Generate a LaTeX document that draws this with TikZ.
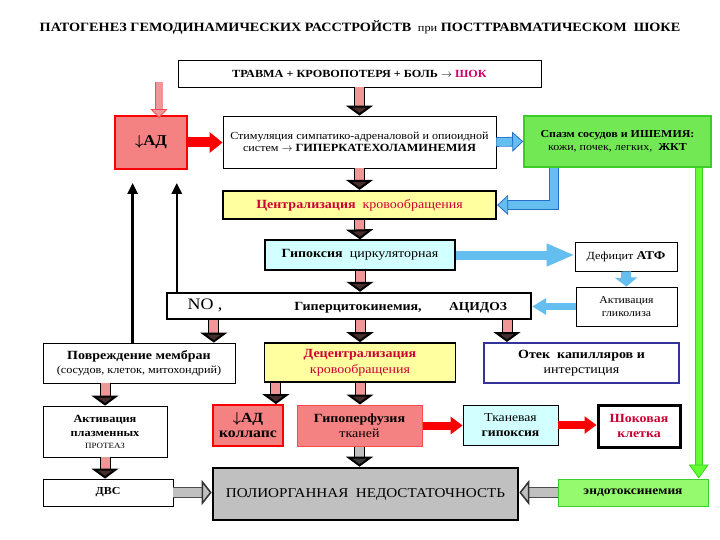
\documentclass[tikz,border=0pt]{standalone}
\usepackage{fontspec}
\setmainfont{Liberation Serif}[FakeStretch=1.12]
\usepackage{tikz}
\usepackage{xcolor}
\usetikzlibrary{positioning, arrows.meta, calc}
\definecolor{shpink}{RGB}{240,150,150}
\definecolor{shsalmon}{RGB}{245,130,130}
\definecolor{shred}{RGB}{250,0,0}
\definecolor{shtext}{RGB}{204,0,51}
\definecolor{shyellow}{RGB}{255,255,160}
\definecolor{shcyan}{RGB}{210,255,255}
\definecolor{shblue}{RGB}{100,190,240}
\definecolor{shdblue}{RGB}{40,110,200}
\definecolor{shgreen}{RGB}{115,232,85}
\definecolor{shdgreen}{RGB}{60,205,40}
\definecolor{shlgreen}{RGB}{150,250,110}
\definecolor{sharrowgreen}{RGB}{100,255,50}
\definecolor{shgray}{RGB}{192,192,192}
\definecolor{shnavy}{RGB}{51,51,153}
\definecolor{shmagenta}{RGB}{210,0,100}
\newcommand{\fs}[1]{\fontsize{#1}{#1}\selectfont}
\tikzset{
    shbox/.style={draw, line width=0.8pt, fill=white, align=center, inner sep=1pt, font=\fs{12.5}},
    redbox/.style={shbox, fill=shsalmon, draw=shred, line width=1.8pt},
    yellowbox/.style={shbox, fill=shyellow, line width=2.2pt},
    cyanbox/.style={shbox, fill=shcyan, line width=1.2pt},
    greenbox/.style={shbox, fill=shgreen, draw=shdgreen, line width=1.5pt},
    pinkarrow/.style={line width=9pt, draw=shpink,
        -{Triangle[length=10pt, width=27pt, color=black, fill=shpink!30!black, line width=2pt]},
        preaction={draw=black, line width=11pt, -, shorten >=9pt}},
    grayarrow/.style={line width=9pt, draw=shgray,
        -{Triangle[length=10pt, width=25pt, color=black!80, fill=shgray, line width=1.5pt]},
        preaction={draw=black!70, line width=10.6pt, -, shorten >=9pt}},
    redarrow/.style={line width=8pt, draw=shred, -{Triangle[length=12pt, width=17pt]}},
    bluearrow/.style={line width=8pt, draw=shblue, -{Triangle[length=11pt, width=20pt, color=shdblue, fill=shblue, line width=0.8pt]},
        preaction={draw=shdblue, line width=9.6pt, -, shorten >=10pt}},
    lightarrow/.style 2 args={draw=shblue, -{Triangle[length=#1, width=#2]}},
    thinarrow/.style={line width=2.6pt, -{Triangle[length=11pt, width=10pt]}}
}

\begin{document}
\begin{tikzpicture}[x=1pt, y=-1pt]
    \fill[white] (0,0) rectangle (720,540);
    \useasboundingbox (0,0) rectangle (720,540);
    % title
    \node[font=\fs{12.7}] (title) at (360,27)
        {\bfseries ПАТОГЕНЕЗ ГЕМОДИНАМИЧЕСКИХ РАССТРОЙСТВ {\mdseries\fs{11} при} ПОСТТРАВМАТИЧЕСКОМ\ \ ШОКЕ};
    % top row
    \node[shbox, minimum width=363pt, minimum height=27pt, font=\fs{10.9}\bfseries] (travma) at (359.5,73.5)
        {ТРАВМА + КРОВОПОТЕРЯ + БОЛЬ $\rightarrow$ \textcolor{shmagenta}{ШОК}};
    \node[redbox, minimum width=72pt, minimum height=53pt, font=\fs{15}\bfseries] (ad) at (151,142.5)
        {{\boldmath$\downarrow$}АД};
    \node[shbox, minimum width=273pt, minimum height=52pt, font=\fs{10.8}] (stim) at (359.5,142)
        {Стимуляция симпатико-адреналовой и опиоидной\\[1pt]
         систем $\rightarrow$ {\fs{11}\bfseries ГИПЕРКАТЕХОЛАМИНЕМИЯ}};
    \node[greenbox, minimum width=187pt, minimum height=51pt, font=\fs{10.7}] (spasm) at (617.5,141.5)
        {\bfseries Спазм сосудов и ИШЕМИЯ:\\[2pt] кожи, почек, легких,\ \ \textbf{ЖКТ}};
    \node[yellowbox, minimum width=273pt, minimum height=28pt, text=shtext] (central) at (359.5,205)
        {\textbf{Централизация}\ \ кровообращения};
    % hypoxia row
    \node[cyanbox, minimum width=190pt, minimum height=30pt] (hypox) at (360,255)
        {\textbf{Гипоксия}\ \ циркуляторная};
    \node[shbox, minimum width=102pt, minimum height=29pt, font=\fs{10.9}] (deficit) at (626,256.5)
        {Дефицит {\fs{12}\bfseries АТФ}};
    \node[shbox, minimum width=101pt, minimum height=39pt, font=\fs{10.5}] (glyc) at (626.5,306.5)
        {Активация\\[2pt] гликолиза};
    \node[shbox, line width=2.4pt, minimum width=364pt, minimum height=26pt] (nobox) at (349,306) {};
    \node[font=\fs{16}] (no) at (205,305) {NO ,};
    \node[font=\fs{12.5}\bfseries] (cyto) at (358,308) {Гиперцитокинемия,};
    \node[font=\fs{12.1}\bfseries] (acid) at (478,308) {АЦИДОЗ};
    % second level
    \node[shbox, minimum width=192pt, minimum height=40pt] (povr) at (139,363)
        {\textbf{Повреждение мембран}\\[2pt] {\fs{10.9}(сосудов, клеток, митохондрий)}};
    \node[yellowbox, line width=1.6pt, minimum width=191pt, minimum height=39pt, text=shtext] (decentr) at (360,362.5)
        {\textbf{Децентрализация}\\[3pt] кровообращения};
    \node[shbox, draw=shnavy, line width=2pt, minimum width=195pt, minimum height=40pt] (otek) at (581.5,363)
        {\textbf{Отек\ \ капилляров и}\\[3pt] интерстиция};
    % third level
    \node[shbox, minimum width=124pt, minimum height=51pt, font=\fs{11}\bfseries] (plasma) at (105,431.5)
        {Активация\\[3pt] плазменных\\[1pt] {\mdseries\fs{8}ПРОТЕАЗ}};
    \node[redbox, minimum width=70pt, minimum height=41pt, font=\fs{14}\bfseries] (adkol) at (248,425.5)
        {{\boldmath$\downarrow$}АД\\[1pt] коллапс};
    \node[redbox, draw=shred!70, line width=1pt, minimum width=125pt, minimum height=41pt] (hypoperf) at (359.5,425.5)
        {\textbf{Гипоперфузия}\\[3pt] тканей};
    \node[cyanbox, line width=0.8pt, minimum width=95pt, minimum height=40pt, font=\fs{12.2}] (tissue) at (510.5,425)
        {Тканевая\\[3pt] \textbf{гипоксия}};
    \node[shbox, line width=3pt, minimum width=82pt, minimum height=42pt, text=shtext, font=\fs{12.4}\bfseries] (shock) at (639,426)
        {Шоковая\\[3pt] клетка};
    % bottom row
    \node[shbox, minimum width=130pt, minimum height=27pt, font=\fs{10.7}\bfseries] (dvs) at (108,492.5) {ДВС};
    \node[shbox, fill=shgray, line width=2.6pt, minimum width=305pt, minimum height=52pt, font=\fs{13.5}] (poly) at (365.5,494)
        {ПОЛИОРГАННАЯ\ \ НЕДОСТАТОЧНОСТЬ};
    \node[shbox, fill=shlgreen, draw=shdgreen, line width=1pt, minimum width=150pt, minimum height=27pt, font=\fs{12}\bfseries] (endo) at (633,492.5)
        {эндотоксинемия};

    % helper points
    \coordinate (adtop) at (159,82);
    \coordinate (s1) at ($(nobox.south west)+(48,0)$);
    \coordinate (s3) at ($(otek.north west)+(24,0)$);
    \coordinate (s4) at ($(adkol.north east)+(-8,0)$);
    \coordinate (s5) at ($(spasm.south west)+(31,0)$);
    \coordinate (s6) at ($(spasm.south east)+(-13,0)$);
    \coordinate (s7) at ($(povr.north west)+(90,0)$);
    \coordinate (s8) at ($(nobox.north west)+(11,0)$);

    % main chain
    \draw[pinkarrow] (travma.south) -- (stim.north);
    \draw[pinkarrow] (stim.south) -- (central.north);
    \draw[pinkarrow] (central.south) -- (hypox.north);
    \draw[pinkarrow] (hypox.south) -- (hypox.south |- nobox.north);
    \draw[pinkarrow] (s1) -- (s1 |- povr.north);
    \draw[pinkarrow] (decentr.north |- nobox.south) -- (decentr.north);
    \draw[pinkarrow] (s3 |- nobox.south) -- (s3);
    \draw[pinkarrow] (plasma.north |- povr.south) -- (plasma.north);
    \draw[pinkarrow] (plasma.south) -- (plasma.south |- dvs.north);
    \draw[pinkarrow] (s4 |- decentr.south) -- (s4);
    \draw[pinkarrow] (decentr.south) -- (decentr.south |- hypoperf.north);
    \draw[line width=7pt, draw=shpink, -{Triangle[length=9pt, width=17pt, color=shred!70, fill=shpink, line width=0.8pt]},
        preaction={draw=shred!70, line width=8.4pt, -, shorten >=8pt}] (adtop) -- ([yshift=-3pt]adtop |- ad.north);
    % red
    \draw[redarrow, line width=10pt, -{Triangle[length=13pt, width=20pt]}] (ad.east) -- (ad.east -| stim.west);
    \draw[redarrow] (hypoperf.east) -- (hypoperf.east -| tissue.west);
    \draw[redarrow] (tissue.east) -- (tissue.east -| shock.west);
    % gray
    \draw[grayarrow, -{Triangle[length=10pt, width=27pt, color=black, fill=shgray!30!black, line width=2pt]}, preaction={draw=black, line width=11pt, -, shorten >=9pt}]
        (hypoperf.south) -- (hypoperf.south |- poly.north);
    \draw[grayarrow] (dvs.east) -- (dvs.east -| poly.west);
    \draw[grayarrow] (endo.west) -- (endo.west -| poly.east);
    % blue
    \draw[bluearrow] (stim.east) -- (spasm.west);
    \draw[bluearrow] (s5) |- (central.east);
    \draw[lightarrow={28pt}{21pt}, line width=9pt] (hypox.east) -- (hypox.east -| deficit.west);
    \draw[lightarrow={9pt}{22pt}, line width=10pt] (deficit.south) -- (glyc.north);
    \draw[lightarrow={14pt}{16pt}, line width=7pt] (glyc.west) -- (glyc.west -| nobox.east);
    % green
    \draw[line width=6pt, draw=sharrowgreen, -{Triangle[length=14pt, width=20pt, color=shdgreen, fill=sharrowgreen, line width=0.8pt]},
        preaction={draw=shdgreen, line width=7.6pt, -, shorten >=13pt}] (s6) -- (s6 |- endo.north);
    % feedback to AD
    \draw[thinarrow, shorten >=13pt] (s7) -- (s7 |- ad.south);
    \draw[thinarrow, shorten >=13pt] (s8) -- (s8 |- ad.south);
\end{tikzpicture}
\end{document}
